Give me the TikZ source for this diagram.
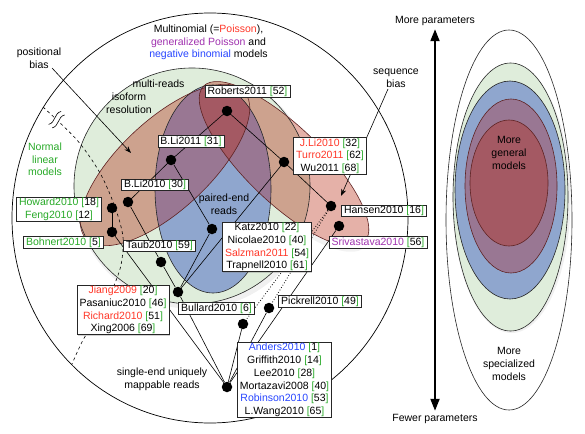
\documentclass[tikz,border=0pt]{standalone}
\usepackage{fontspec}
\setmainfont{Liberation Sans}
\usetikzlibrary{arrows.meta,shadows}
\definecolor{cgreen}{RGB}{40,170,40}
\definecolor{cred}{RGB}{255,55,40}
\definecolor{cpurple}{RGB}{160,50,175}
\definecolor{cblue}{RGB}{40,70,255}
\definecolor{fgreen}{RGB}{223,237,219}
\definecolor{fblue}{RGB}{143,166,206}
\definecolor{ftan}{RGB}{205,162,142}
\definecolor{fpink}{RGB}{229,177,168}
\definecolor{fpurple}{RGB}{153,119,147}
\definecolor{fred}{RGB}{164,89,99}
\definecolor{edgebrown}{RGB}{95,35,35}
\newcommand{\citebr}[1]{\textcolor{cgreen}{[}#1\textcolor{cgreen}{]}}
\pgfdeclarelayer{bg}
\pgfdeclarelayer{lk}
\pgfsetlayers{bg,lk,main}
\begin{document}
\begin{tikzpicture}[x=1pt,y=-1pt, font=\fontsize{10.5}{12.7}\selectfont,
 refbox/.style={draw=black!85, fill=white, line width=0.7pt, inner xsep=2.5pt, inner ysep=0.9pt, align=center,
   drop shadow={shadow xshift=0.7pt, shadow yshift=-0.7pt, opacity=0.35}},
 hdot/.style={circle, fill=black, inner sep=0pt, minimum size=10.5pt},
 hline/.style={line width=0.6pt},
 outl/.style={line width=0.6pt, draw=black!85},
 saledge/.style={line width=0.6pt, draw=edgebrown},
 ptr/.style={line width=0.6pt, -{Stealth[length=7pt,width=5pt]}},
 tone/.style={rotate around={43:(165,165)}},
 ttwo/.style={rotate around={-44:(284,164)}}
]
\useasboundingbox (0,0) rectangle (585,433);

\begin{pgfonlayer}{bg}
% main diagram shapes
\draw[line width=0.7pt, fill=white] (210,218) ellipse [x radius=198, y radius=205];
\fill[black, opacity=0.06] (194,189) circle [radius=120];
\fill[black, opacity=0.05, ttwo] (286,167) ellipse [x radius=114, y radius=40];
\fill[fgreen] (192,186) circle [radius=118];
\fill[fpink, tone] (165,165) ellipse [x radius=108, y radius=45];
\fill[fpink, ttwo] (284,164) ellipse [x radius=112, y radius=38];
\begin{scope}
 \clip (192,186) circle [radius=118];
 \fill[ftan, tone] (165,165) ellipse [x radius=108, y radius=45];
 \fill[ftan, ttwo] (284,164) ellipse [x radius=112, y radius=38];
\end{scope}
\fill[fblue] (213,189) ellipse [x radius=58, y radius=104];
\begin{scope}
 \clip (213,189) ellipse [x radius=58, y radius=104];
 \fill[fpurple, tone] (165,165) ellipse [x radius=108, y radius=45];
 \fill[fpurple, ttwo] (284,164) ellipse [x radius=112, y radius=38];
 \begin{scope}
  \clip[tone] (165,165) ellipse [x radius=108, y radius=45];
  \fill[fred, ttwo] (284,164) ellipse [x radius=112, y radius=38];
 \end{scope}
\end{scope}
\draw[outl] (192,186) circle [radius=118];
\draw[outl] (213,189) ellipse [x radius=58, y radius=104];
\draw[saledge, tone] (165,165) ellipse [x radius=108, y radius=45];
\draw[saledge, ttwo] (284,164) ellipse [x radius=112, y radius=38];
% dashed separator with break mark
\draw[line width=0.6pt, dashed] plot[smooth] coordinates {(43,107) (77,140) (100,173) (115,207) (123,237) (121,265) (112,290) (97,318) (83,340) (72,364)};
\begin{scope}[shift={(57,120)}, rotate=-44]
 \fill[white] (-3,-9) .. controls (-7,-3) and (1,3) .. (-3,9) -- (2,9) .. controls (6,3) and (-2,-3) .. (2,-9) -- cycle;
 \draw[line width=0.6pt] (-3,-9) .. controls (-7,-3) and (1,3) .. (-3,9);
 \draw[line width=0.6pt] (2,-9) .. controls (-2,-3) and (6,3) .. (2,9);
\end{scope}
% right panel
\draw[outl, fill=white] (509,220) ellipse [x radius=63, y radius=190];
\fill[black, opacity=0.06] (511.5,199) ellipse [x radius=59, y radius=134];
\draw[outl, fill=fgreen] (510.5,197) ellipse [x radius=57.5, y radius=134];
\draw[outl, fill=fblue] (510,190) ellipse [x radius=55, y radius=109];
\draw[saledge, fill=fpurple] (511,186) ellipse [x radius=46, y radius=87];
\draw[saledge, fill=fred] (509,183) ellipse [x radius=39, y radius=63];
\end{pgfonlayer}

% free texts
\node[align=center] (title) at (208.5,42.5) {Multinomial (=\textcolor{cred}{Poisson}),\\\textcolor{cpurple}{generalized Poisson} and\\\textcolor{cblue}{negative binomial} models};
\node[align=center] (posbias) at (39,58) {positional\\bias};
\node (multi) at (158.5,84) {multi-reads};
\node[align=center] (iso) at (129,103.5) {isoform\\resolution};
\node[align=center, text=cgreen] (normal) at (45,159.5) {Normal\\linear\\models};
\node[align=center] (paired) at (224,204) {paired-end\\reads};
\node[align=center] (single) at (162,379) {single-end uniquely\\mappable reads};
\node[align=center] (seqbias) at (396,78.5) {sequence\\bias};
\node (morep) at (435,21) {More parameters};
\node (fewerp) at (435,419) {Fewer parameters};
\node[align=center] (general) at (509,153) {More\\general\\models};
\node[align=center] (special) at (509,364) {More\\specialized\\models};

% dots
\node[hdot] (dRob) at (227,111) {};
\node[hdot] (dBLi11) at (171,160) {};
\node[hdot] (dBLi10) at (128,202) {};
\node[hdot] (dHow) at (112,208) {};
\node[hdot] (dBoh) at (112,232) {};
\node[hdot] (dJLi) at (284,162) {};
\node[hdot] (dHansen) at (331,206) {};
\node[hdot] (dSriv) at (339,226) {};
\node[hdot] (dKatz) at (212,229) {};
\node[hdot] (dTaub) at (161,262) {};
\node[hdot] (dJiang) at (178,292) {};
\node[hdot] (dBull) at (243,324) {};
\node[hdot] (dPick) at (269,308) {};
\node[hdot] (dSingle) at (227,387) {};

% boxes
\node[refbox] (bRob) at (247.5,91.5) {Roberts2011 \citebr{52}};
\node[refbox] (bBLi11) at (191,141.5) {B.Li2011 \citebr{31}};
\node[refbox] (bBLi10) at (155,185) {B.Li2010 \citebr{30}};
\node[refbox] (bHow) at (59,209.5) {\textcolor{cgreen}{Howard2010} \citebr{18}\\\textcolor{cgreen}{Feng2010} \citebr{12}};
\node[refbox] (bBoh) at (63.5,242.5) {\textcolor{cgreen}{Bohnert2010} \citebr{5}};
\node[refbox] (bTaub) at (159.5,246) {Taub2010 \citebr{59}};
\node[refbox] (bJLi) at (330,156) {\textcolor{cred}{J.Li2010} \citebr{32}\\\textcolor{cred}{Turro2011} \citebr{62}\\Wu2011 \citebr{68}};
\node[refbox] (bHansen) at (384,211) {Hansen2010 \citebr{16}};
\node[refbox] (bSriv) at (378,242.5) {\textcolor{cpurple}{Srivastava2010} \citebr{56}};
\node[refbox] (bKatz) at (267,247) {Katz2010 \citebr{22}\\Nicolae2010 \citebr{40}\\\textcolor{cred}{Salzman2011} \citebr{54}\\Trapnell2010 \citebr{61}};
\node[refbox] (bJiang) at (123,310) {\textcolor{cred}{Jiang2009} \citebr{20}\\Pasaniuc2010 \citebr{46}\\\textcolor{cred}{Richard2010} \citebr{51}\\Xing2006 \citebr{69}};
\node[refbox] (bBull) at (216.5,308.5) {Bullard2010 \citebr{6}};
\node[refbox] (bPick) at (320,301.5) {Pickrell2010 \citebr{49}};
\node[refbox] (bAnders) at (284.5,380) {\textcolor{cblue}{Anders2010} \citebr{1}\\Griffith2010 \citebr{14}\\Lee2010 \citebr{28}\\Mortazavi2008 \citebr{40}\\\textcolor{cblue}{Robinson2010} \citebr{53}\\L.Wang2010 \citebr{65}};

\coordinate (pbS) at (52,68);
\coordinate (pbE) at (131,153);
\coordinate (sbS) at (388,89);
\coordinate (sbE) at (341,196);

\begin{pgfonlayer}{lk}
\draw[hline] (dRob) -- (dBLi11);
\draw[hline] (dRob) -- (dJLi);
\draw[hline] (dBLi11) -- (dBLi10);
\draw[hline] (dBLi11) -- (dKatz);
\draw[hline] (dBLi10) -- (dTaub);
\draw[hline] (dTaub) -- (dJiang);
\draw[hline] (dKatz) -- (dJiang);
\draw[hline] (dJLi) -- (dJiang);
\draw[hline] (dJLi) -- (dHansen);
\draw[hline] (dHow) -- (dBoh);
\draw[hline] (dBoh) -- (dSingle);
\draw[hline] (dJiang) -- (dSingle);
\draw[hline] (dBull) -- (dSingle);
\draw[hline] (dPick) -- (dSingle);
\draw[hline] (dSriv) -- (dSingle);
\draw[hline, line width=0.8pt, dash pattern=on 0.8pt off 2pt] (dHansen) -- (dBull);
\draw[hline, line width=0.8pt, dash pattern=on 0.8pt off 2pt] (dHansen) -- (dPick);
\draw[ptr] (pbS) -- (pbE);
\draw[ptr] (sbS) -- (sbE);
\draw[line width=2pt, {Triangle[length=12pt,width=9pt]}-{Triangle[length=12pt,width=9pt]}] (morep.south) -- (fewerp.north);
\end{pgfonlayer}
\end{tikzpicture}
\end{document}
